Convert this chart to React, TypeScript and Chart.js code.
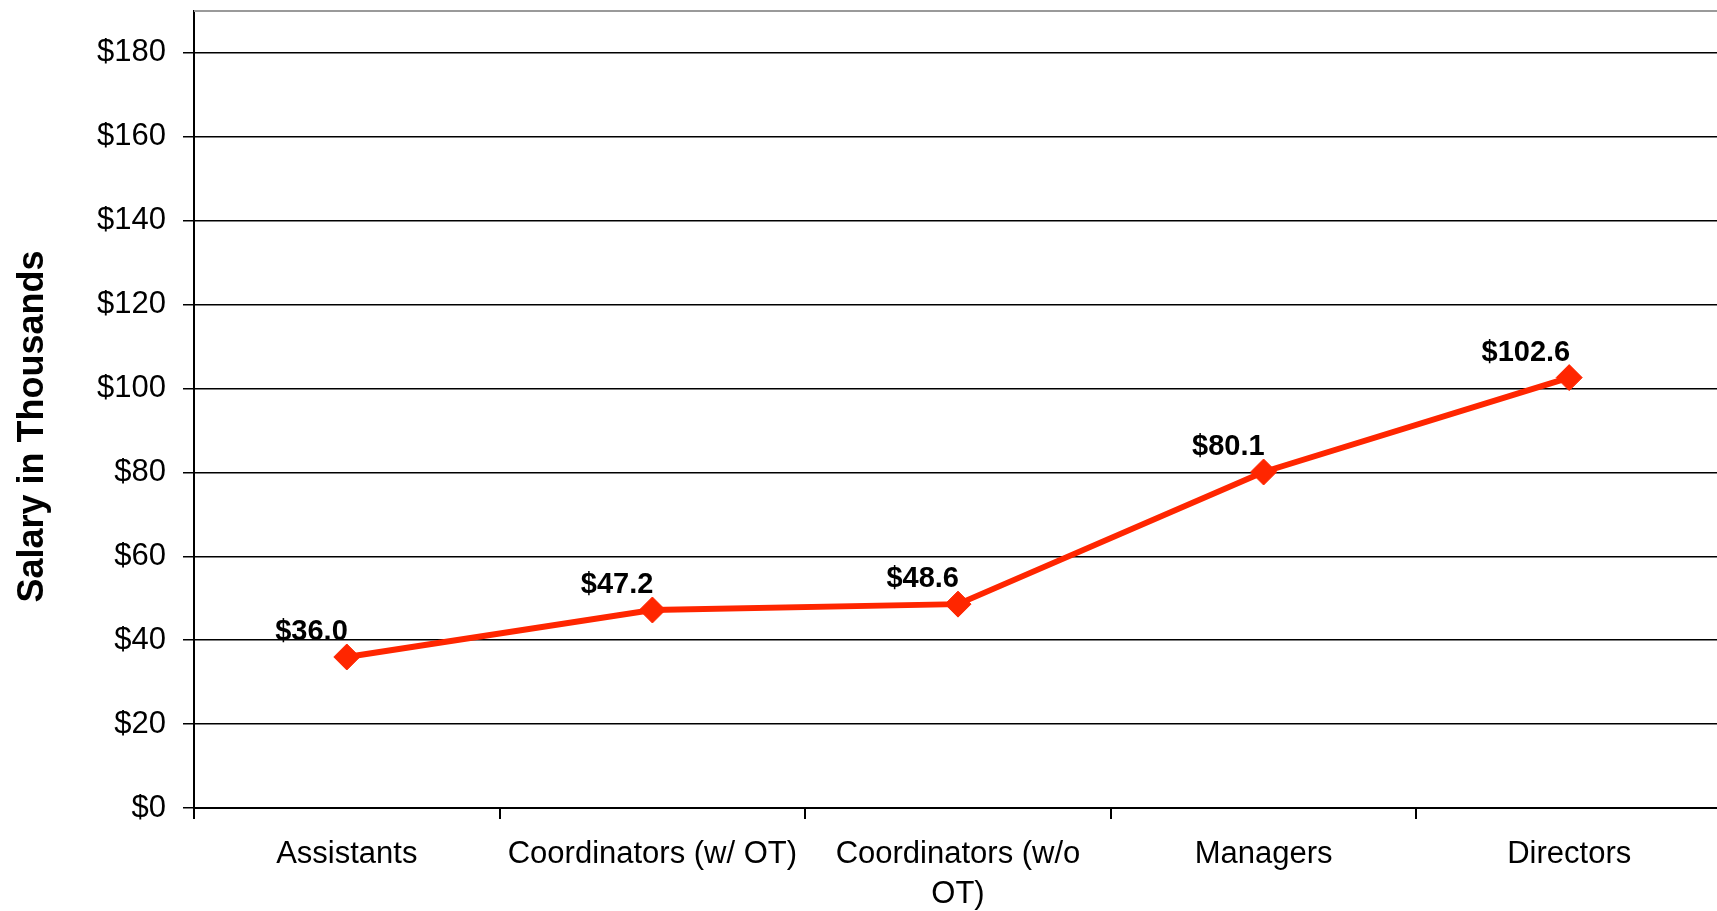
import React, { useEffect, useRef } from "react";
import { Chart, registerables } from "chart.js";

Chart.register(...registerables);

const categories: (string | string[])[] = [
  "Assistants",
  "Coordinators (w/ OT)",
  ["Coordinators (w/o", "OT)"],
  "Managers",
  "Directors",
];
const salaries: number[] = [36.0, 47.2, 48.6, 80.1, 102.6];
const yMin = 0;
const yMax = 190;
const yStep = 20;
const yLastTick = 180;
const yTitle = "Salary in Thousands";

const FONT = "'Liberation Sans', Arial, Helvetica, sans-serif";
const LINE_COLOR = "#FF2600";

const W = 1722;
const H = 911;

const valueLabels = {
  id: "valueLabels",
  afterDatasetsDraw(chart: any) {
    const ctx = chart.ctx;
    const meta = chart.getDatasetMeta(0);
    ctx.save();
    ctx.font = `bold 29px ${FONT}`;
    ctx.fillStyle = "#000";
    ctx.textAlign = "right";
    ctx.textBaseline = "middle";
    meta.data.forEach((pt: any, i: number) => {
      const v = salaries[i];
      ctx.fillText(`$${v.toFixed(1)}`, pt.x + 1, pt.y - 25);
    });
    ctx.restore();
  },
};

const axisTitle = {
  id: "axisTitle",
  afterDraw(chart: any) {
    const { ctx, chartArea } = chart;
    ctx.save();
    ctx.translate(33, (chartArea.top + chartArea.bottom) / 2 + 17);
    ctx.rotate(-Math.PI / 2);
    ctx.font = `bold 36px ${FONT}`;
    ctx.fillStyle = "#000";
    ctx.textAlign = "center";
    ctx.textBaseline = "middle";
    ctx.fillText(yTitle, 0, 0);
    ctx.restore();
  },
};

const topBorder = {
  id: "topBorder",
  beforeDatasetsDraw(chart: any) {
    const { ctx, chartArea } = chart;
    ctx.save();
    ctx.strokeStyle = "#9a9a9a";
    ctx.lineWidth = 2;
    ctx.beginPath();
    ctx.moveTo(chartArea.left, chartArea.top);
    ctx.lineTo(chartArea.right, chartArea.top);
    ctx.stroke();
    ctx.restore();
  },
};

export default function App() {
  const ref = useRef<HTMLCanvasElement | null>(null);

  useEffect(() => {
    if (!ref.current) return;
    const chart = new Chart(ref.current, {
      type: "line",
      data: {
        labels: categories as any,
        datasets: [
          {
            data: salaries,
            borderColor: LINE_COLOR,
            backgroundColor: LINE_COLOR,
            borderWidth: 6,
            pointStyle: "rectRot",
            pointRadius: 13,
            pointHoverRadius: 13,
            pointBorderWidth: 1,
            pointBackgroundColor: LINE_COLOR,
            pointBorderColor: LINE_COLOR,
            tension: 0,
            fill: false,
            clip: false as any,
          },
        ],
      },
      options: {
        responsive: false,
        maintainAspectRatio: false,
        animation: false,
        layout: {
          autoPadding: false,
          padding: { top: 11, left: 0, right: 0, bottom: 0 },
        },
        plugins: {
          legend: { display: false },
          tooltip: { enabled: false },
        },
        scales: {
          x: {
            type: "category",
            offset: true,
            grid: {
              offset: true,
              drawOnChartArea: false,
              drawTicks: true,
              tickLength: 11,
              color: "#000",
              lineWidth: 2,
            },
            border: { display: true, color: "#000", width: 2 },
            ticks: {
              color: "#000",
              font: { family: FONT, size: 31, lineHeight: 1.28 },
              padding: 16,
              maxRotation: 0,
              minRotation: 0,
              autoSkip: false,
            },
            afterFit(scale: any) {
              scale.height = H - 808;
              scale.paddingLeft = 0;
              scale.paddingRight = 0;
            },
          },
          y: {
            type: "linear",
            min: yMin,
            max: yMax,
            ticks: {
              stepSize: yStep,
              color: "#000",
              font: { family: FONT, size: 31 },
              padding: 17,
              callback: (v: any) => `$${v}`,
            },
            afterBuildTicks(scale: any) {
              scale.ticks = scale.ticks.filter((t: any) => t.value <= yLastTick);
            },
            grid: {
              color: "#000",
              lineWidth: 1.5,
              tickLength: 11,
              tickColor: "#000",
            },
            border: { display: true, color: "#000", width: 2 },
            title: { display: false },
            afterFit(scale: any) {
              scale.width = 194;
              scale.paddingTop = 0;
              scale.paddingBottom = 0;
            },
          },
        },
      },
      plugins: [topBorder, valueLabels, axisTitle],
    });
    return () => chart.destroy();
  }, []);

  return (
    <div
      style={{
        position: "fixed",
        left: 0,
        top: 0,
        width: 1717,
        height: 911,
        overflow: "hidden",
        background: "#fff",
      }}
    >
      <div style={{ width: W, height: H }}>
        <canvas
          ref={ref}
          width={W}
          height={H}
          style={{ display: "block", width: W, height: H }}
        />
      </div>
    </div>
  );
}
